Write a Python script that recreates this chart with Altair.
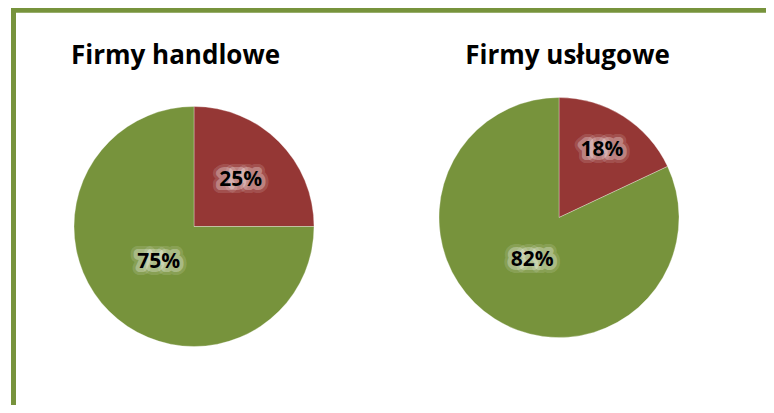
import altair as alt
import pandas as pd

firms = ["Firmy handlowe", "Firmy usługowe"]
categories = ["część 1", "część 2"]  # red slice, green slice
red_values = [25, 18]
green_values = [75, 82]

rows = []
for i, f in enumerate(firms):
    rows.append({"firm": f, "cat": categories[0], "value": red_values[i], "order": 0})
    rows.append({"firm": f, "cat": categories[1], "value": green_values[i], "order": 1})
df = pd.DataFrame(rows)

GREEN = "#77933C"
RED = "#953735"
FONT = "Open Sans"

W = 752
H = 395

base = alt.Chart(df).transform_window(
    cum="sum(value)", groupby=["firm"], sort=[alt.SortField("order")], frame=[None, 0]
).transform_calculate(
    start="datum.cum - datum.value",
    mid="datum.cum - datum.value / 2",
    label="datum.value + '%'",
    lr="datum.value < 20 ? 80 : (datum.value < 50 ? 66 : 50)",
)

xenc = alt.X("firm:N", scale=alt.Scale(type="point", domain=firms, range=[180.5, 545.5], padding=0), axis=None)
yenc = alt.Y("firm:N", scale=alt.Scale(type="point", domain=firms, range=[216.5, 207.5], padding=0), axis=None)
theta_scale = alt.Scale(domain=[0, 100])

arcs = base.mark_arc(radius=120, stroke="white", strokeWidth=0.5, strokeOpacity=0.6).encode(
    x=xenc,
    y=yenc,
    theta=alt.Theta("start:Q", scale=theta_scale, stack=None),
    theta2="cum:Q",
    color=alt.Color("cat:N", scale=alt.Scale(domain=categories, range=[RED, GREEN]), legend=None),
)

label_enc = dict(
    x=xenc,
    y=yenc,
    theta=alt.Theta("mid:Q", scale=theta_scale, stack=None),
    radius=alt.Radius("lr:Q", scale=None),
    text="label:N",
)

glow_outer = base.mark_text(
    font=FONT, fontWeight="bold", fontSize=21, baseline="middle", align="center",
    stroke="white", strokeWidth=14, strokeOpacity=0.15, strokeJoin="round",
    fill="white", fillOpacity=0.2,
).encode(**label_enc)

glow_inner = base.mark_text(
    font=FONT, fontWeight="bold", fontSize=21, baseline="middle", align="center",
    stroke="white", strokeWidth=8, strokeOpacity=0.3, strokeJoin="round",
    fill="white", fillOpacity=0.3,
).encode(**label_enc)

labels = base.mark_text(
    font=FONT, fontWeight="bold", fontSize=21, baseline="middle", align="center", color="black",
).encode(**label_enc)

tdf = pd.DataFrame({"firm": firms})
title1 = alt.Chart(tdf).transform_filter(alt.datum.firm == firms[0]).mark_text(
    font=FONT, fontWeight="bold", fontSize=26, baseline="alphabetic", align="center", dx=-18.5, color="black"
).encode(x=xenc, y=alt.value(53.5), text="firm:N")
title2 = alt.Chart(tdf).transform_filter(alt.datum.firm == firms[1]).mark_text(
    font=FONT, fontWeight="bold", fontSize=26, baseline="alphabetic", align="center", dx=8.5, color="black"
).encode(x=xenc, y=alt.value(53.5), text="firm:N")

frame_top = alt.Chart(tdf).mark_rule(color=GREEN, strokeWidth=5, strokeCap="square").encode(
    x=alt.value(0), x2=alt.value(W + 20), y=alt.value(0)
)
frame_left = alt.Chart(tdf).mark_rule(color=GREEN, strokeWidth=5, strokeCap="square").encode(
    x=alt.value(0), y=alt.value(0), y2=alt.value(H + 20)
)

chart = alt.layer(frame_top, frame_left, arcs, glow_outer, glow_inner, labels, title1, title2).properties(
    width=W,
    height=H,
    padding={"left": 5.5, "top": 2, "right": 0, "bottom": 0},
    autosize=alt.AutoSizeParams(type="none"),
    background="white",
).configure_view(stroke=None)

chart.save("out.html", embed_options={"renderer": "svg", "actions": False})
